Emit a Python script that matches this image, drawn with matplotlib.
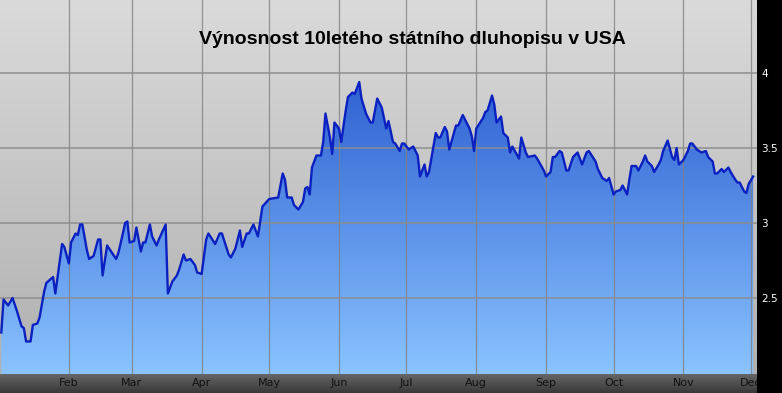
##US 10Y TREASURY YIELD 2009 - AREA CHART##

import numpy as np
import pandas as pd
import matplotlib
matplotlib.use('Agg')
import matplotlib.pyplot as plt
import matplotlib.dates as mdates
from matplotlib.colors import LinearSegmentedColormap
from matplotlib.patches import Polygon, Rectangle

##DATA

#days since 1 Jan 2009
day = [1, 2, 4, 6, 8, 10, 11, 12, 14, 15, 17, 18, 20, 21, 24, 25, 28, 29, 31, 32,
       34, 35, 36, 37, 39, 40, 42, 44, 45, 46, 48, 52, 53, 55, 56, 57, 58, 60, 61, 63,
       64, 65, 67, 68, 70, 71, 74, 75, 77, 79, 80, 82, 83, 85, 87, 88, 90, 92, 93, 96,
       98, 99, 102, 103, 105, 107, 108, 110, 111, 113, 115, 117,
       120, 124, 126, 127, 128, 130, 131, 133, 135, 136, 137, 138, 139, 141, 143, 144,
       145, 147, 148, 149, 151, 152, 154, 155, 157, 158, 160, 161, 163, 165, 166, 168,
       170, 172, 173, 175, 176, 178, 179, 180, 182, 184, 186, 187, 189, 190, 191, 194,
       195, 196, 198, 199, 200, 203, 204, 206, 209, 210, 211, 212, 215, 216, 217, 219,
       220, 221, 223, 224, 226, 227, 228,
       231, 232, 234, 235, 238, 239, 242, 243, 245, 246, 247, 249, 250, 252, 253, 255,
       257, 259, 261, 262, 265, 266, 268, 270, 271, 273, 274, 276, 277, 279, 280, 281,
       283, 284, 286, 287, 288, 290, 291, 293, 294, 295, 297, 299, 300, 301, 302, 304,
       306, 307, 308, 310, 312, 314, 315, 317, 318, 319, 321, 322, 324, 325, 327, 328,
       329, 331, 332, 333, 335]

yield_pct = [2.27, 2.49, 2.45, 2.50, 2.41, 2.31, 2.30, 2.21, 2.21, 2.32, 2.33, 2.37, 2.54, 2.60, 2.64, 2.53, 2.86, 2.84, 2.73, 2.87,
             2.93, 2.92, 2.99, 2.99, 2.82, 2.76, 2.78, 2.89, 2.89, 2.65, 2.85, 2.76, 2.80, 2.93, 3.00, 3.01, 2.87, 2.88, 2.97, 2.81,
             2.87, 2.87, 2.99, 2.91, 2.85, 2.89, 2.99, 2.53, 2.61, 2.65, 2.69, 2.79, 2.75, 2.76, 2.72, 2.67, 2.66, 2.89, 2.93, 2.86,
             2.93, 2.93, 2.79, 2.77, 2.83, 2.95, 2.84, 2.93, 2.93, 2.99, 2.91, 3.11,
             3.16, 3.17, 3.33, 3.29, 3.17, 3.17, 3.12, 3.09, 3.14, 3.23, 3.24, 3.19, 3.37, 3.45, 3.45, 3.54,
             3.73, 3.57, 3.46, 3.67, 3.63, 3.54, 3.75, 3.84, 3.87, 3.86, 3.94, 3.83, 3.73, 3.67, 3.67, 3.83,
             3.77, 3.63, 3.68, 3.54, 3.53, 3.48, 3.53, 3.53, 3.49, 3.51, 3.45, 3.31, 3.39, 3.31, 3.34, 3.60,
             3.57, 3.57, 3.64, 3.61, 3.49, 3.65, 3.65, 3.72, 3.63, 3.58, 3.48, 3.63, 3.70, 3.74, 3.75, 3.85,
             3.79, 3.67, 3.71, 3.60, 3.57, 3.47, 3.51,
             3.43, 3.57, 3.47, 3.44, 3.45, 3.43, 3.35, 3.31, 3.34, 3.44, 3.44, 3.48, 3.47, 3.35, 3.35, 3.44,
             3.47, 3.39, 3.47, 3.48, 3.41, 3.36, 3.30, 3.28, 3.30, 3.19, 3.21, 3.22, 3.25, 3.19, 3.29, 3.38,
             3.38, 3.35, 3.41, 3.45, 3.41, 3.38, 3.34, 3.39, 3.42, 3.48, 3.55, 3.44, 3.42, 3.50, 3.39, 3.42,
             3.48, 3.53, 3.53, 3.49, 3.47, 3.48, 3.44, 3.41, 3.33, 3.33, 3.36, 3.34, 3.37, 3.34, 3.29, 3.27,
             3.27, 3.21, 3.20, 3.26, 3.31]

y_ticks = [2.5, 3, 3.5, 4]
y_labels = ['2.5', '3', '3.5', '4']
title = 'Výnosnost 10letého státního dluhopisu v USA'

dates = pd.Timestamp('2009-01-01') + pd.to_timedelta(day, unit='D')
x_num = mdates.date2num(dates)

##AXIS RANGES

x_lo = mdates.date2num(pd.Timestamp('2009-01-01 10:00'))
x_hi = mdates.date2num(pd.Timestamp('2009-12-03 17:00'))
y_lo, y_hi = 1.993, 4.487

##FIGURE

W, H = 782, 393
fig = plt.figure(figsize=(W / 100, H / 100), dpi=100)
fig.patch.set_facecolor('black')

ax = fig.add_axes([0, 19 / H, 757 / W, 374 / H])
ax.set_zorder(1)
bar = fig.add_axes([0, 0, 757 / W, 19 / H])
bar.set_zorder(0)

#bottom bar with dark gradient
bar_cmap = LinearSegmentedColormap.from_list('bar', ['#383838', '#666666'])
bar.imshow(np.linspace(0, 1, 64).reshape(-1, 1), cmap=bar_cmap, aspect='auto',
           origin='lower', extent=[0, 1, 0, 1])
bar.set_axis_off()

#grey gradient background of the plot
bg_cmap = LinearSegmentedColormap.from_list('bg', ['#b0b0b0', '#dadada'])
ax.imshow(np.linspace(0, 1, 256).reshape(-1, 1), cmap=bg_cmap, aspect='auto',
          origin='lower', extent=[x_lo, x_hi, y_lo, y_hi], zorder=0)

#blue gradient under the line
verts = [(x_num[0], y_lo)] + list(zip(x_num, yield_pct)) + [(x_num[-1], y_lo)]
area = Polygon(verts, closed=True, facecolor='none', edgecolor='none')
ax.add_patch(area)
fill_cmap = LinearSegmentedColormap.from_list('fill', ['#8ac3ff', '#1646c6'])
im = ax.imshow(np.linspace(0, 1, 256).reshape(-1, 1), cmap=fill_cmap, aspect='auto',
               origin='lower', extent=[x_lo, x_hi, y_lo, y_hi], zorder=1)
im.set_clip_path(area)

ax.plot(dates, yield_pct, color='#0a20c0', linewidth=1.7, zorder=3, solid_joinstyle='round')

ax.set_xlim(x_lo, x_hi)
ax.set_ylim(y_lo, y_hi)

##GRID AND TICKS

ax.set_axisbelow(False)
ax.xaxis.set_major_locator(mdates.MonthLocator())
ax.xaxis.set_major_formatter(mdates.DateFormatter('%b'))
ax.set_yticks(y_ticks)
ax.set_yticklabels(y_labels)
ax.grid(True, axis='x', color='#808080', linewidth=0.9, alpha=0.8)
ax.grid(True, axis='y', color='#8c8c8c', linewidth=1.4, alpha=0.75)

ax.yaxis.tick_right()
ax.tick_params(axis='y', length=0, pad=3, labelsize=7.5, labelcolor='white')
ax.tick_params(axis='x', length=0, pad=3, labelsize=8, labelcolor='#111111')
for s in ax.spines.values():
    s.set_visible(False)

#black corner cuts the Dec label like the original
fig.add_artist(Rectangle((757 / W, 0), 25 / W, 19 / H, transform=fig.transFigure,
                         facecolor='black', edgecolor='none', zorder=5))

##TITLE

fig.text(412 / W, 1 - 40 / H, title, ha='center', va='center', fontsize=14,
         fontweight='bold', family=['Liberation Sans', 'DejaVu Sans'], color='black')

fig.savefig('out.png', dpi=100, facecolor=fig.get_facecolor())
